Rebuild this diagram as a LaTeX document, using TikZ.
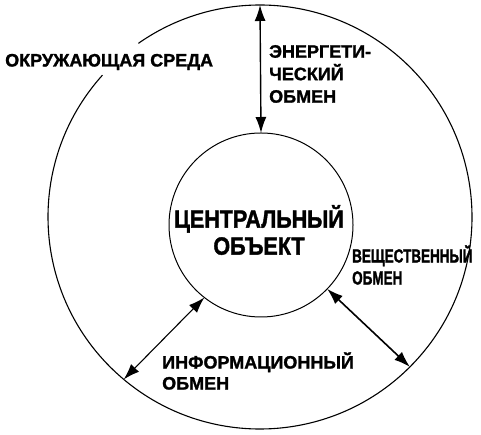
\documentclass[tikz,border=0pt]{standalone}
\usepackage{fontspec}
\setmainfont{Liberation Sans}
\newfontfamily\heavyfont{Liberation Sans Bold}[FakeBold=1.4]
\newfontfamily\narrowfont{Liberation Sans Bold}[FakeStretch=0.71, FakeBold=1.4]
\newfontfamily\centfont{Liberation Sans Bold}[FakeStretch=0.86, FakeBold=1.6]
\usetikzlibrary{arrows.meta}
\tikzset{
    ring/.style={circle, inner sep=0pt, outer sep=0pt},
    exch/.style={{Latex[length=16pt,width=11pt]}-{Latex[length=16pt,width=11pt]}, line width=1.1pt},
    lbl/.style={inner sep=0pt, align=left, anchor=west, font=\fontsize{18}{22.5}\heavyfont}
}

\begin{document}
\begin{tikzpicture}[x=1pt, y=1pt]
                \useasboundingbox (0,0) rectangle (481,435);
                \node [ring, minimum size=424pt] (outer) at (260,218) {};
                \draw [line width=1.1pt] (outer.138) arc [start angle=138, end angle=485, radius=212pt];
                \node [ring, draw, line width=1pt, minimum size=184pt] (inner) at (261,210) {};
                \draw [exch, line width=1.4pt] (outer.90) -- (inner.90);
                \draw [exch] (inner.232) -- (outer.230);
                \draw [exch, line width=1.6pt] (inner.316) -- (outer.315);
                \node [lbl] (env) at (5,373) {ОКРУЖАЮЩАЯ СРЕДА};
                \node [lbl] (energy) at (269,361) {ЭНЕРГЕТИ-\\ЧЕСКИЙ\\ОБМЕН};
                \node [lbl, font=\fontsize{19}{22}\narrowfont] (matter) at (352,170) {ВЕЩЕСТВЕННЫЙ\\ОБМЕН};
                \node [lbl, font=\fontsize{18}{21}\heavyfont] (info) at (162,64) {ИНФОРМАЦИОННЫЙ\\ОБМЕН};
                \node [inner sep=0pt, align=center, font=\fontsize{25}{27}\centfont] (obj) at (259,205) {ЦЕНТРАЛЬНЫЙ\\ОБЪЕКТ};
            \end{tikzpicture}
\end{document}
